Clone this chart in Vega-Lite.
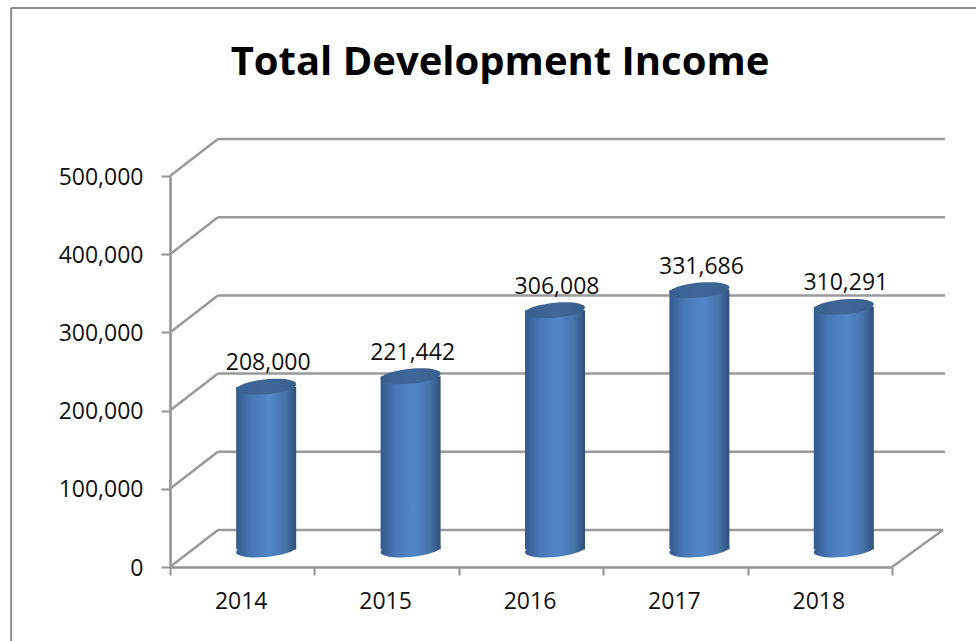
{
"$schema":"https://vega.github.io/schema/vega-lite/v6.json",
"autosize":{"type":"none"},
"width":722,"height":391,
"padding":{"left":170,"top":176,"right":84,"bottom":74},
"background":"white",
"view":{"stroke":null},
"config":{"view":{"stroke":null},"font":"Open Sans"},
"title":{"text":"Total Development Income","font":"Open Sans","fontWeight":"bold","fontSize":40,"color":"#000000","anchor":"middle","frame":"group","dx":-31,"offset":-76},
"datasets":{
"income":[{"year":"2014","income":208000},{"year":"2015","income":221442},{"year":"2016","income":306008},{"year":"2017","income":331686},{"year":"2018","income":310291}],
"frame":[{"x0":-1.1,"y0":714800,"x1":5.6,"y1":714800},{"x0":-1.1,"y0":714800,"x1":-1.1,"y1":-94700}],
"walls":[
{"x0":0,"y0":0,"x1":0.332,"y1":47300},{"x0":0.332,"y0":47300,"x1":5.353,"y1":47300},{"x0":5,"y0":0,"x1":5.353,"y1":47300},
{"x0":0,"y0":100000,"x1":0.332,"y1":147300},{"x0":0.332,"y0":147300,"x1":5.367,"y1":147300},
{"x0":0,"y0":200000,"x1":0.332,"y1":247300},{"x0":0.332,"y0":247300,"x1":5.367,"y1":247300},
{"x0":0,"y0":300000,"x1":0.332,"y1":347300},{"x0":0.332,"y0":347300,"x1":5.367,"y1":347300},
{"x0":0,"y0":400000,"x1":0.332,"y1":447300},{"x0":0.332,"y0":447300,"x1":5.367,"y1":447300},
{"x0":0,"y0":500000,"x1":0.332,"y1":547300},{"x0":0.332,"y0":547300,"x1":5.367,"y1":547300}]
},
"layer":[
{"data":{"name":"frame"},"mark":{"type":"rule","color":"#8c8c8c","strokeWidth":2,"clip":false},
 "encoding":{"x":{"field":"x0","type":"quantitative","scale":{"domain":[0,5],"nice":false,"zero":false},"axis":null},"x2":{"field":"x1"},
 "y":{"field":"y0","type":"quantitative","scale":{"domain":[0,500000],"nice":false},"axis":{"values":[0,100000,200000,300000,400000,500000],"format":",d","title":null,"grid":false,"domainColor":"#929292","domainWidth":2.5,"tickColor":"#929292","tickWidth":2,"tickSize":9,"labelPadding":18,"labelOffset":1,"labelFont":"Open Sans","labelFontSize":23,"labelColor":"#111111"}},"y2":{"field":"y1"}}},
{"data":{"name":"walls"},"mark":{"type":"rule","color":"#9a9a9a","strokeWidth":2.5,"clip":false},
 "encoding":{"x":{"field":"x0","type":"quantitative","scale":{"domain":[0,5],"nice":false,"zero":false},"axis":null},"x2":{"field":"x1"},
 "y":{"field":"y0","type":"quantitative"},"y2":{"field":"y1"}}},
{"data":{"name":"income"},"layer":[
 {"mark":{"type":"text","font":"Open Sans","fontSize":23,"color":"#111111","xOffset":26,"yOffset":-41,"baseline":"middle"},
  "encoding":{"text":{"field":"income","type":"quantitative","format":",d"}}},
 {"mark":{"type":"point","shape":"M1,-.09 C1,-.228 .552,-.30 0,-.25 C-.552,-.20 -1,-.048 -1,.09 C-1,.228 -.552,.30 0,.25 C.552,.20 1,.048 1,-.09 Z","filled":true,"size":3600,"opacity":1,"xOffset":24,"yOffset":-17.5,
  "fill":{"x1":0,"y1":0,"x2":1,"y2":0,"gradient":"linear","stops":[{"offset":0,"color":"#335a8c"},{"offset":0.25,"color":"#4878b4"},{"offset":0.55,"color":"#5287cb"},{"offset":0.82,"color":"#4673aa"},{"offset":1,"color":"#2f5079"}]}},
  "encoding":{"y":{"datum":0,"type":"quantitative"}}},
 {"mark":{"type":"bar","size":60,"xOffset":24,"yOffset":-17.5,"y2Offset":-17.5,
  "fill":{"x1":0,"y1":0,"x2":1,"y2":0,"gradient":"linear","stops":[{"offset":0,"color":"#335a8c"},{"offset":0.25,"color":"#4878b4"},{"offset":0.55,"color":"#5287cb"},{"offset":0.82,"color":"#4673aa"},{"offset":1,"color":"#2f5079"}]}},
  "encoding":{"y":{"field":"income","type":"quantitative"},"y2":{"datum":0}}},
 {"mark":{"type":"point","shape":"M1,-.09 C1,-.228 .552,-.30 0,-.25 C-.552,-.20 -1,-.048 -1,.09 C-1,.228 -.552,.30 0,.25 C.552,.20 1,.048 1,-.09 Z","filled":true,"size":3600,"opacity":1,"xOffset":24,"yOffset":-17.5,
  "fill":{"x1":0,"y1":0,"x2":1,"y2":0,"gradient":"linear","stops":[{"offset":0,"color":"#38608f"},{"offset":0.5,"color":"#3f6899"},{"offset":1,"color":"#3a5f8c"}]}},
  "encoding":{"y":{"field":"income","type":"quantitative"}}}
 ],
 "encoding":{"x":{"field":"year","type":"ordinal","sort":null,"scale":{"paddingInner":0,"paddingOuter":0},"axis":{"title":null,"labelAngle":0,"tickBand":"extent","domainColor":"#929292","domainWidth":2.5,"tickColor":"#929292","tickWidth":2,"tickSize":8,"labelPadding":15,"labelOffset":-1.5,"labelFont":"Open Sans","labelFontSize":23,"labelColor":"#111111"}},
 "y":{"field":"income","type":"quantitative"}}}
],
"resolve":{"scale":{"x":"independent"}}
}
